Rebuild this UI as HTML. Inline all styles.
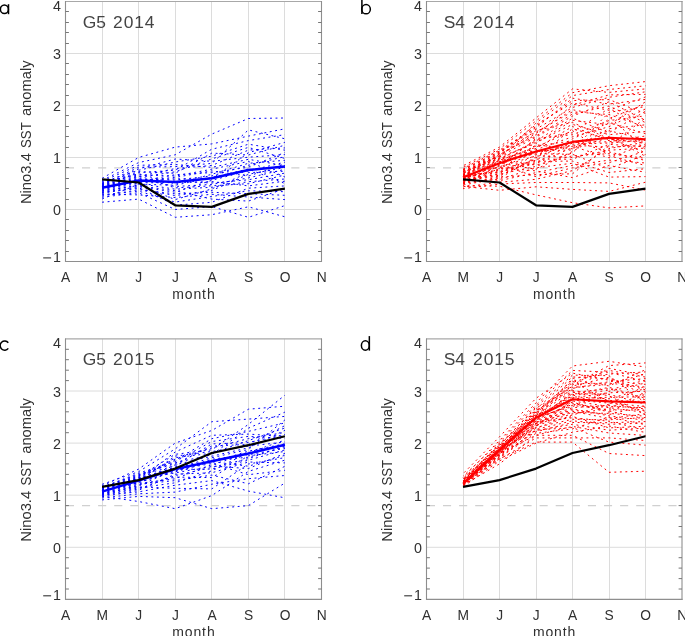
<!DOCTYPE html><html><head><meta charset="utf-8"><style>html,body{margin:0;padding:0;background:#fff;overflow:hidden;}svg{display:block;will-change:transform;}text{font-family:"Liberation Sans",sans-serif;}</style></head><body>
<svg width="685" height="636" viewBox="0 0 685 636">
<rect width="685" height="636" fill="#fff"/>
<path d="M102.5 1.5V261.5M138.5 1.5V261.5M175.5 1.5V261.5M211.5 1.5V261.5M248.5 1.5V261.5M284.5 1.5V261.5M65.5 209.5H321.5M65.5 157.5H321.5M65.5 105.5H321.5M65.5 53.5H321.5" stroke="#dcdcdc" stroke-width="1" fill="none"/>
<path d="M65.9 167.9H321.5" stroke="#d0d0d0" stroke-width="1.2" stroke-dasharray="8.1 8" fill="none"/>
<g stroke="#0000ff" stroke-width="1.0" fill="none" stroke-dasharray="1.9 3.6">
<polyline points="102.1,196.0 138.6,189.7 175.2,193.8 211.8,192.3 248.4,193.7 284.9,195.3"/>
<polyline points="102.1,187.1 138.6,178.3 175.2,186.5 211.8,184.4 248.4,177.9 284.9,169.3"/>
<polyline points="102.1,184.1 138.6,167.3 175.2,166.6 211.8,163.4 248.4,129.9 284.9,138.8"/>
<polyline points="102.1,194.9 138.6,191.1 175.2,202.1 211.8,196.5 248.4,190.8 284.9,191.7"/>
<polyline points="102.1,187.9 138.6,180.7 175.2,177.4 211.8,170.9 248.4,176.1 284.9,163.9"/>
<polyline points="102.1,197.2 138.6,192.7 175.2,209.5 211.8,206.6 248.4,217.3 284.9,205.6"/>
<polyline points="102.1,178.3 138.6,157.5 175.2,147.1 211.8,143.9 248.4,136.1 284.9,128.8"/>
<polyline points="102.1,190.1 138.6,183.5 175.2,189.2 211.8,187.3 248.4,181.7 284.9,179.0"/>
<polyline points="102.1,182.3 138.6,170.3 175.2,162.0 211.8,156.2 248.4,144.2 284.9,150.2"/>
<polyline points="102.1,185.3 138.6,177.4 175.2,171.8 211.8,158.9 248.4,147.4 284.9,158.5"/>
<polyline points="102.1,186.5 138.6,176.6 175.2,168.5 211.8,165.5 248.4,150.1 284.9,147.9"/>
<polyline points="102.1,187.5 138.6,182.8 175.2,182.6 211.8,181.6 248.4,185.9 284.9,181.2"/>
<polyline points="102.1,186.8 138.6,172.7 175.2,170.2 211.8,149.2 248.4,140.6 284.9,134.6"/>
<polyline points="102.1,189.0 138.6,181.4 175.2,174.7 211.8,172.6 248.4,167.2 284.9,152.5"/>
<polyline points="102.1,188.5 138.6,180.0 175.2,178.8 211.8,179.0 248.4,152.7 284.9,142.3"/>
<polyline points="102.1,189.5 138.6,182.1 175.2,181.3 211.8,183.0 248.4,179.8 284.9,173.1"/>
<polyline points="102.1,184.5 138.6,171.6 175.2,173.3 211.8,153.1 248.4,155.0 284.9,145.2"/>
<polyline points="102.1,184.9 138.6,175.7 175.2,187.9 211.8,185.8 248.4,183.7 284.9,175.0"/>
<polyline points="102.1,183.5 138.6,174.7 175.2,176.1 211.8,169.2 248.4,161.4 284.9,177.0"/>
<polyline points="102.1,185.7 138.6,168.9 175.2,159.0 211.8,161.3 248.4,157.2 284.9,154.6"/>
<polyline points="102.1,180.4 138.6,162.6 175.2,154.8 211.8,134.1 248.4,118.5 284.9,118.0"/>
<polyline points="102.1,192.6 138.6,186.7 175.2,192.2 211.8,180.3 248.4,170.8 284.9,162.2"/>
<polyline points="102.1,202.2 138.6,199.1 175.2,217.3 211.8,214.7 248.4,206.8 284.9,216.8"/>
<polyline points="102.1,186.1 138.6,179.1 175.2,180.0 211.8,175.9 248.4,165.3 284.9,156.6"/>
<polyline points="102.1,191.3 138.6,185.0 175.2,199.6 211.8,188.9 248.4,172.6 284.9,171.2"/>
<polyline points="102.1,191.9 138.6,188.6 175.2,195.6 211.8,190.5 248.4,174.3 284.9,167.5"/>
<polyline points="102.1,194.1 138.6,194.9 175.2,197.5 211.8,194.3 248.4,197.0 284.9,199.6"/>
<polyline points="102.1,199.0 138.6,184.2 175.2,185.2 211.8,177.5 248.4,169.0 284.9,183.5"/>
<polyline points="102.1,190.7 138.6,185.8 175.2,190.7 211.8,199.1 248.4,201.1 284.9,188.7"/>
<polyline points="102.1,183.0 138.6,173.7 175.2,183.9 211.8,174.3 248.4,163.3 284.9,160.3"/>
<polyline points="102.1,193.3 138.6,187.6 175.2,205.2 211.8,202.3 248.4,188.2 284.9,185.9"/>
<polyline points="102.1,181.5 138.6,165.3 175.2,164.5 211.8,167.4 248.4,159.3 284.9,165.7"/>
</g>
<polyline points="102.1,187.7 138.6,180.4 175.2,181.9 211.8,178.3 248.4,170.0 284.9,166.6" stroke="#0000ff" stroke-width="2.5" fill="none" stroke-linejoin="round"/>
<polyline points="102.1,179.3 138.6,182.5 175.2,205.3 211.8,206.9 248.4,193.9 284.9,188.7" stroke="#000" stroke-width="2.2" fill="none" stroke-linejoin="round"/>
<path d="M65.0 1.5H322.0" stroke="#a8a8a8" stroke-width="1.1"/>
<path d="M65.5 1.0V262.0" stroke="#8e8e8e" stroke-width="1.1"/>
<path d="M321.5 1.0V262.0" stroke="#8e8e8e" stroke-width="1.1"/>
<path d="M65.0 261.5H322.0" stroke="#8e8e8e" stroke-width="1.1"/>
<path d="M65.5 251.5h3.4M321.5 251.5h-3.4M65.5 240.5h3.4M321.5 240.5h-3.4M65.5 230.5h3.4M321.5 230.5h-3.4M65.5 219.5h3.4M321.5 219.5h-3.4M65.5 199.5h3.4M321.5 199.5h-3.4M65.5 188.5h3.4M321.5 188.5h-3.4M65.5 178.5h3.4M321.5 178.5h-3.4M65.5 167.5h3.4M321.5 167.5h-3.4M65.5 147.5h3.4M321.5 147.5h-3.4M65.5 136.5h3.4M321.5 136.5h-3.4M65.5 126.5h3.4M321.5 126.5h-3.4M65.5 115.5h3.4M321.5 115.5h-3.4M65.5 95.5h3.4M321.5 95.5h-3.4M65.5 84.5h3.4M321.5 84.5h-3.4M65.5 74.5h3.4M321.5 74.5h-3.4M65.5 63.5h3.4M321.5 63.5h-3.4M65.5 43.5h3.4M321.5 43.5h-3.4M65.5 32.5h3.4M321.5 32.5h-3.4M65.5 22.5h3.4M321.5 22.5h-3.4M65.5 11.5h3.4M321.5 11.5h-3.4" stroke="#777" stroke-width="1" fill="none"/>
<text x="60.9" y="261.9" font-size="14.3" fill="#303030" text-anchor="end">1</text>
<path d="M43.2 257.9H51.1" stroke="#333" stroke-width="1.1"/>
<text x="60.9" y="215.1" font-size="14.3" fill="#303030" text-anchor="end">0</text>
<text x="60.9" y="163.1" font-size="14.3" fill="#303030" text-anchor="end">1</text>
<text x="60.9" y="111.1" font-size="14.3" fill="#303030" text-anchor="end">2</text>
<text x="60.9" y="59.1" font-size="14.3" fill="#303030" text-anchor="end">3</text>
<text x="60.9" y="10.5" font-size="14.3" fill="#303030" text-anchor="end">4</text>
<text x="65.7" y="281.7" font-size="13.8" fill="#303030" text-anchor="middle">A</text>
<text x="102.3" y="281.7" font-size="13.8" fill="#303030" text-anchor="middle">M</text>
<text x="138.8" y="281.7" font-size="13.8" fill="#303030" text-anchor="middle">J</text>
<text x="175.4" y="281.7" font-size="13.8" fill="#303030" text-anchor="middle">J</text>
<text x="212.0" y="281.7" font-size="13.8" fill="#303030" text-anchor="middle">A</text>
<text x="248.6" y="281.7" font-size="13.8" fill="#303030" text-anchor="middle">S</text>
<text x="285.1" y="281.7" font-size="13.8" fill="#303030" text-anchor="middle">O</text>
<text x="321.7" y="281.7" font-size="13.8" fill="#303030" text-anchor="middle">N</text>
<text x="193.9" y="298.7" font-size="14" fill="#303030" text-anchor="middle" letter-spacing="0.9">month</text>
<text transform="translate(30.5 204.1) rotate(-90)" font-size="14.2" fill="#303030" textLength="51.0" lengthAdjust="spacingAndGlyphs">Nino3.4</text>
<text transform="translate(30.5 148.0) rotate(-90)" font-size="14.2" fill="#303030" textLength="25.7" lengthAdjust="spacingAndGlyphs">SST</text>
<text transform="translate(30.5 116.1) rotate(-90)" font-size="14.2" fill="#303030" textLength="55.8" lengthAdjust="spacingAndGlyphs">anomaly</text>
<text x="82.7" y="27.8" font-size="17.4" fill="#444">G5</text>
<text x="113.1" y="27.8" font-size="17.4" fill="#444" letter-spacing="0.9">2014</text>
<path d="M463.5 1.5V261.5M499.5 1.5V261.5M536.5 1.5V261.5M572.5 1.5V261.5M609.5 1.5V261.5M645.5 1.5V261.5M426.5 209.5H682.0M426.5 157.5H682.0M426.5 105.5H682.0M426.5 53.5H682.0" stroke="#dcdcdc" stroke-width="1" fill="none"/>
<path d="M426.9 167.9H682.0" stroke="#d0d0d0" stroke-width="1.2" stroke-dasharray="8.1 8" fill="none"/>
<g stroke="#ff0000" stroke-width="1.0" fill="none" stroke-dasharray="1.9 3.6">
<polyline points="463.0,173.4 499.5,157.6 536.0,123.0 572.5,95.6 609.0,89.5 645.5,85.8" stroke-dashoffset="0.1"/>
<polyline points="463.0,180.3 499.5,175.2 536.0,159.1 572.5,159.3 609.0,144.3 645.5,146.8" stroke-dashoffset="-0.5"/>
<polyline points="463.0,185.6 499.5,186.2 536.0,194.9 572.5,202.7 609.0,207.9 645.5,205.9" stroke-dashoffset="1.0"/>
<polyline points="463.0,171.4 499.5,156.5 536.0,137.2 572.5,116.1 609.0,101.8 645.5,120.3" stroke-dashoffset="-0.6"/>
<polyline points="463.0,169.8 499.5,153.4 536.0,126.3 572.5,100.6 609.0,99.6 645.5,113.5"/>
<polyline points="463.0,176.1 499.5,154.7 536.0,134.7 572.5,105.2 609.0,94.9 645.5,94.4" stroke-dashoffset="-0.5"/>
<polyline points="463.0,170.4 499.5,151.1 536.0,129.2 572.5,107.5 609.0,97.3 645.5,91.8" stroke-dashoffset="-0.3"/>
<polyline points="463.0,168.5 499.5,150.2 536.0,127.8 572.5,98.2 609.0,104.0 645.5,99.4" stroke-dashoffset="1.4"/>
<polyline points="463.0,173.0 499.5,157.0 536.0,143.5 572.5,120.3 609.0,124.7 645.5,101.8" stroke-dashoffset="-1.2"/>
<polyline points="463.0,183.5 499.5,177.2 536.0,174.6 572.5,173.8 609.0,145.6 645.5,118.0" stroke-dashoffset="-0.2"/>
<polyline points="463.0,181.8 499.5,163.0 536.0,169.3 572.5,151.4 609.0,130.7 645.5,139.5" stroke-dashoffset="-0.8"/>
<polyline points="463.0,177.4 499.5,161.9 536.0,146.0 572.5,140.9 609.0,151.9 645.5,160.5" stroke-dashoffset="-0.5"/>
<polyline points="463.0,178.5 499.5,160.3 536.0,147.2 572.5,130.6 609.0,155.7 645.5,165.6" stroke-dashoffset="1.5"/>
<polyline points="463.0,178.1 499.5,170.7 536.0,161.3 572.5,161.1 609.0,172.5 645.5,168.7" stroke-dashoffset="-0.5"/>
<polyline points="463.0,171.8 499.5,155.9 536.0,130.6 572.5,122.4 609.0,138.8 645.5,143.2" stroke-dashoffset="0.3"/>
<polyline points="463.0,169.2 499.5,151.9 536.0,132.0 572.5,111.8 609.0,114.5 645.5,127.0" stroke-dashoffset="-0.2"/>
<polyline points="463.0,174.4 499.5,167.5 536.0,170.9 572.5,177.6 609.0,165.5 645.5,172.3" stroke-dashoffset="0.7"/>
<polyline points="463.0,180.6 499.5,176.2 536.0,158.0 572.5,128.6 609.0,139.7 645.5,138.2" stroke-dashoffset="-0.2"/>
<polyline points="463.0,167.5 499.5,149.0 536.0,120.9 572.5,92.7 609.0,85.7 645.5,81.6" stroke-dashoffset="-1.0"/>
<polyline points="463.0,174.1 499.5,158.7 536.0,142.3 572.5,124.4 609.0,134.7 645.5,131.5" stroke-dashoffset="-0.2"/>
<polyline points="463.0,183.0 499.5,165.9 536.0,138.5 572.5,134.7 609.0,120.6 645.5,115.8" stroke-dashoffset="-0.3"/>
<polyline points="463.0,174.8 499.5,159.2 536.0,141.0 572.5,118.2 609.0,132.7 645.5,111.2" stroke-dashoffset="0.9"/>
<polyline points="463.0,176.4 499.5,172.4 536.0,162.5 572.5,144.1 609.0,143.0 645.5,140.3" stroke-dashoffset="0.2"/>
<polyline points="463.0,177.1 499.5,169.9 536.0,144.8 572.5,148.8 609.0,128.7 645.5,124.8" stroke-dashoffset="-0.9"/>
<polyline points="463.0,176.8 499.5,163.6 536.0,152.9 572.5,145.2 609.0,147.1 645.5,145.5" stroke-dashoffset="0.5"/>
<polyline points="463.0,186.3 499.5,190.3 536.0,186.8 572.5,189.4 609.0,191.4 645.5,182.2" stroke-dashoffset="-0.6"/>
<polyline points="463.0,183.9 499.5,168.3 536.0,151.9 572.5,146.3 609.0,157.8 645.5,144.3"/>
<polyline points="463.0,172.6 499.5,152.7 536.0,124.7 572.5,103.0 609.0,110.3 645.5,96.9" stroke-dashoffset="-0.8"/>
<polyline points="463.0,181.4 499.5,171.6 536.0,163.7 572.5,147.5 609.0,138.0 645.5,152.7" stroke-dashoffset="-0.3"/>
<polyline points="463.0,181.0 499.5,179.5 536.0,167.8 572.5,163.2 609.0,177.1 645.5,176.6" stroke-dashoffset="0.9"/>
<polyline points="463.0,175.4 499.5,166.7 536.0,155.9 572.5,157.5 609.0,150.2 645.5,148.1"/>
<polyline points="463.0,179.9 499.5,164.4 536.0,176.7 572.5,167.8 609.0,162.7 645.5,151.1" stroke-dashoffset="0.8"/>
<polyline points="463.0,172.2 499.5,158.2 536.0,150.9 572.5,150.0 609.0,112.4 645.5,106.6" stroke-dashoffset="0.8"/>
<polyline points="463.0,182.6 499.5,180.7 536.0,172.6 572.5,165.4 609.0,160.1 645.5,163.0" stroke-dashoffset="0.3"/>
<polyline points="463.0,188.7 499.5,184.0 536.0,182.5 572.5,182.5 609.0,182.9 645.5,190.1" stroke-dashoffset="0.4"/>
<polyline points="463.0,184.4 499.5,165.2 536.0,139.8 572.5,132.7 609.0,108.3 645.5,129.3" stroke-dashoffset="-0.3"/>
<polyline points="463.0,178.8 499.5,174.2 536.0,166.4 572.5,152.8 609.0,118.6 645.5,104.2" stroke-dashoffset="0.4"/>
<polyline points="463.0,175.8 499.5,159.8 536.0,148.5 572.5,126.5 609.0,140.7 645.5,141.1" stroke-dashoffset="0.8"/>
<polyline points="463.0,173.7 499.5,154.0 536.0,136.0 572.5,114.0 609.0,106.1 645.5,122.6" stroke-dashoffset="-1.2"/>
<polyline points="463.0,187.2 499.5,182.2 536.0,179.3 572.5,170.6 609.0,148.6 645.5,142.1" stroke-dashoffset="1.3"/>
<polyline points="463.0,182.2 499.5,173.3 536.0,154.8 572.5,142.3 609.0,141.8 645.5,136.0" stroke-dashoffset="-0.4"/>
<polyline points="463.0,165.8 499.5,147.1 536.0,118.0 572.5,88.9 609.0,92.4 645.5,88.9" stroke-dashoffset="-1.1"/>
<polyline points="463.0,177.8 499.5,169.1 536.0,160.2 572.5,138.8 609.0,122.7 645.5,133.7" stroke-dashoffset="-1.0"/>
<polyline points="463.0,185.0 499.5,178.3 536.0,156.9 572.5,143.1 609.0,136.7 645.5,156.3" stroke-dashoffset="-0.5"/>
<polyline points="463.0,179.6 499.5,162.4 536.0,149.7 572.5,136.8 609.0,126.7 645.5,108.9" stroke-dashoffset="-1.3"/>
<polyline points="463.0,175.1 499.5,161.4 536.0,165.0 572.5,155.8 609.0,153.7 645.5,158.3" stroke-dashoffset="-0.3"/>
<polyline points="463.0,170.9 499.5,155.3 536.0,133.3 572.5,109.7 609.0,116.5 645.5,149.6" stroke-dashoffset="-0.3"/>
<polyline points="463.0,179.2 499.5,160.8 536.0,153.8 572.5,154.3 609.0,168.8 645.5,154.5" stroke-dashoffset="0.5"/>
</g>
<polyline points="463.0,177.3 499.5,163.2 536.0,151.5 572.5,141.9 609.0,137.7 645.5,139.3" stroke="#ff0000" stroke-width="2.1" fill="none" stroke-linejoin="round"/>
<polyline points="463.0,179.3 499.5,182.5 536.0,205.3 572.5,206.9 609.0,193.9 645.5,188.7" stroke="#000" stroke-width="2.2" fill="none" stroke-linejoin="round"/>
<path d="M426.0 1.5H682.5" stroke="#a8a8a8" stroke-width="1.1"/>
<path d="M426.5 1.0V262.0" stroke="#8e8e8e" stroke-width="1.1"/>
<path d="M682.0 1.0V262.0" stroke="#8e8e8e" stroke-width="1.1"/>
<path d="M426.0 261.5H682.5" stroke="#8e8e8e" stroke-width="1.1"/>
<path d="M426.5 251.5h3.4M682.0 251.5h-3.4M426.5 240.5h3.4M682.0 240.5h-3.4M426.5 230.5h3.4M682.0 230.5h-3.4M426.5 219.5h3.4M682.0 219.5h-3.4M426.5 199.5h3.4M682.0 199.5h-3.4M426.5 188.5h3.4M682.0 188.5h-3.4M426.5 178.5h3.4M682.0 178.5h-3.4M426.5 167.5h3.4M682.0 167.5h-3.4M426.5 147.5h3.4M682.0 147.5h-3.4M426.5 136.5h3.4M682.0 136.5h-3.4M426.5 126.5h3.4M682.0 126.5h-3.4M426.5 115.5h3.4M682.0 115.5h-3.4M426.5 95.5h3.4M682.0 95.5h-3.4M426.5 84.5h3.4M682.0 84.5h-3.4M426.5 74.5h3.4M682.0 74.5h-3.4M426.5 63.5h3.4M682.0 63.5h-3.4M426.5 43.5h3.4M682.0 43.5h-3.4M426.5 32.5h3.4M682.0 32.5h-3.4M426.5 22.5h3.4M682.0 22.5h-3.4M426.5 11.5h3.4M682.0 11.5h-3.4" stroke="#777" stroke-width="1" fill="none"/>
<text x="421.9" y="261.9" font-size="14.3" fill="#303030" text-anchor="end">1</text>
<path d="M404.2 257.9H412.1" stroke="#333" stroke-width="1.1"/>
<text x="421.9" y="215.1" font-size="14.3" fill="#303030" text-anchor="end">0</text>
<text x="421.9" y="163.1" font-size="14.3" fill="#303030" text-anchor="end">1</text>
<text x="421.9" y="111.1" font-size="14.3" fill="#303030" text-anchor="end">2</text>
<text x="421.9" y="59.1" font-size="14.3" fill="#303030" text-anchor="end">3</text>
<text x="421.9" y="10.5" font-size="14.3" fill="#303030" text-anchor="end">4</text>
<text x="426.7" y="281.7" font-size="13.8" fill="#303030" text-anchor="middle">A</text>
<text x="463.2" y="281.7" font-size="13.8" fill="#303030" text-anchor="middle">M</text>
<text x="499.7" y="281.7" font-size="13.8" fill="#303030" text-anchor="middle">J</text>
<text x="536.2" y="281.7" font-size="13.8" fill="#303030" text-anchor="middle">J</text>
<text x="572.7" y="281.7" font-size="13.8" fill="#303030" text-anchor="middle">A</text>
<text x="609.2" y="281.7" font-size="13.8" fill="#303030" text-anchor="middle">S</text>
<text x="645.7" y="281.7" font-size="13.8" fill="#303030" text-anchor="middle">O</text>
<text x="682.2" y="281.7" font-size="13.8" fill="#303030" text-anchor="middle">N</text>
<text x="554.6" y="298.7" font-size="14" fill="#303030" text-anchor="middle" letter-spacing="0.9">month</text>
<text transform="translate(391.5 204.1) rotate(-90)" font-size="14.2" fill="#303030" textLength="51.0" lengthAdjust="spacingAndGlyphs">Nino3.4</text>
<text transform="translate(391.5 148.0) rotate(-90)" font-size="14.2" fill="#303030" textLength="25.7" lengthAdjust="spacingAndGlyphs">SST</text>
<text transform="translate(391.5 116.1) rotate(-90)" font-size="14.2" fill="#303030" textLength="55.8" lengthAdjust="spacingAndGlyphs">anomaly</text>
<text x="443.7" y="27.8" font-size="17.4" fill="#444">S4</text>
<text x="473.1" y="27.8" font-size="17.4" fill="#444" letter-spacing="0.9">2014</text>
<path d="M102.5 338.9V599.4M138.5 338.9V599.4M175.5 338.9V599.4M211.5 338.9V599.4M248.5 338.9V599.4M284.5 338.9V599.4M65.5 547.3H321.5M65.5 495.2H321.5M65.5 443.1H321.5M65.5 391.0H321.5" stroke="#dcdcdc" stroke-width="1" fill="none"/>
<path d="M65.9 505.6H321.5" stroke="#d0d0d0" stroke-width="1.2" stroke-dasharray="8.1 8" fill="none"/>
<g stroke="#0000ff" stroke-width="1.0" fill="none" stroke-dasharray="1.9 3.6">
<polyline points="102.1,495.2 138.6,491.9 175.2,485.2 211.8,480.6 248.4,491.1 284.9,497.8"/>
<polyline points="102.1,489.4 138.6,478.7 175.2,470.1 211.8,463.5 248.4,474.7 284.9,470.3"/>
<polyline points="102.1,494.4 138.6,489.0 175.2,475.6 211.8,467.4 248.4,458.6 284.9,445.9"/>
<polyline points="102.1,492.9 138.6,484.3 175.2,480.6 211.8,475.1 248.4,483.8 284.9,466.3"/>
<polyline points="102.1,486.8 138.6,474.9 175.2,462.7 211.8,454.7 248.4,428.2 284.9,412.1"/>
<polyline points="102.1,492.3 138.6,480.9 175.2,464.8 211.8,456.2 248.4,447.8 284.9,430.3"/>
<polyline points="102.1,492.0 138.6,480.0 175.2,457.7 211.8,453.2 248.4,440.6 284.9,428.0"/>
<polyline points="102.1,491.2 138.6,479.6 175.2,452.0 211.8,435.3 248.4,434.1 284.9,436.4"/>
<polyline points="102.1,490.0 138.6,477.3 175.2,460.4 211.8,438.7 248.4,431.4 284.9,422.9"/>
<polyline points="102.1,490.9 138.6,477.8 175.2,467.7 211.8,460.6 248.4,457.2 284.9,447.0"/>
<polyline points="102.1,498.0 138.6,493.8 175.2,492.1 211.8,484.2 248.4,478.7 284.9,475.5"/>
<polyline points="102.1,491.7 138.6,482.8 175.2,470.9 211.8,459.2 248.4,454.7 284.9,448.4"/>
<polyline points="102.1,494.0 138.6,482.1 175.2,471.9 211.8,461.6 248.4,466.2 284.9,455.3"/>
<polyline points="102.1,489.7 138.6,478.2 175.2,473.0 211.8,466.0 248.4,468.6 284.9,453.3"/>
<polyline points="102.1,493.6 138.6,486.0 175.2,469.4 211.8,469.1 248.4,460.2 284.9,449.9"/>
<polyline points="102.1,495.7 138.6,487.9 175.2,482.8 211.8,470.8 248.4,452.7 284.9,440.1"/>
<polyline points="102.1,493.3 138.6,486.9 175.2,488.3 211.8,488.9 248.4,464.0 284.9,457.6"/>
<polyline points="102.1,497.0 138.6,490.3 175.2,474.2 211.8,472.8 248.4,462.0 284.9,462.9"/>
<polyline points="102.1,499.9 138.6,496.4 175.2,497.7 211.8,508.7 248.4,505.6 284.9,483.0"/>
<polyline points="102.1,492.6 138.6,479.1 175.2,468.7 211.8,457.7 248.4,449.5 284.9,419.9"/>
<polyline points="102.1,485.9 138.6,469.1 175.2,443.1 211.8,430.5 248.4,409.2 284.9,406.2"/>
<polyline points="102.1,484.3 138.6,471.7 175.2,448.9 211.8,421.7 248.4,419.1 284.9,416.4"/>
<polyline points="102.1,490.6 138.6,480.4 175.2,466.8 211.8,462.4 248.4,451.1 284.9,443.8"/>
<polyline points="102.1,494.8 138.6,485.1 175.2,477.1 211.8,477.6 248.4,455.8 284.9,451.5"/>
<polyline points="102.1,491.4 138.6,481.5 175.2,456.1 211.8,451.5 248.4,446.1 284.9,442.0"/>
<polyline points="102.1,488.3 138.6,475.6 175.2,465.8 211.8,443.9 248.4,442.6 284.9,434.4"/>
<polyline points="102.1,488.7 138.6,476.2 175.2,459.1 211.8,448.0 248.4,438.6 284.9,432.4"/>
<polyline points="102.1,490.3 138.6,483.5 175.2,478.8 211.8,464.6 248.4,453.8 284.9,445.0"/>
<polyline points="102.1,487.9 138.6,474.1 175.2,463.8 211.8,446.1 248.4,444.4 284.9,425.6"/>
<polyline points="102.1,487.4 138.6,473.1 175.2,461.6 211.8,441.5 248.4,436.4 284.9,438.3"/>
<polyline points="102.1,489.1 138.6,476.8 175.2,454.3 211.8,449.8 248.4,424.4 284.9,395.2"/>
<polyline points="102.1,496.3 138.6,501.5 175.2,508.7 211.8,495.6 248.4,471.4 284.9,460.1"/>
</g>
<polyline points="102.1,491.6 138.6,480.6 175.2,469.1 211.8,461.3 248.4,453.5 284.9,444.7" stroke="#0000ff" stroke-width="2.5" fill="none" stroke-linejoin="round"/>
<polyline points="102.1,486.9 138.6,480.1 175.2,468.6 211.8,453.0 248.4,445.2 284.9,436.3" stroke="#000" stroke-width="2.2" fill="none" stroke-linejoin="round"/>
<path d="M65.0 338.9H322.0" stroke="#a8a8a8" stroke-width="1.1"/>
<path d="M65.5 338.4V599.9" stroke="#8e8e8e" stroke-width="1.1"/>
<path d="M321.5 338.4V599.9" stroke="#8e8e8e" stroke-width="1.1"/>
<path d="M65.0 599.4H322.0" stroke="#8e8e8e" stroke-width="1.1"/>
<path d="M65.5 589.0h3.4M321.5 589.0h-3.4M65.5 578.6h3.4M321.5 578.6h-3.4M65.5 568.1h3.4M321.5 568.1h-3.4M65.5 557.7h3.4M321.5 557.7h-3.4M65.5 536.9h3.4M321.5 536.9h-3.4M65.5 526.5h3.4M321.5 526.5h-3.4M65.5 516.0h3.4M321.5 516.0h-3.4M65.5 505.6h3.4M321.5 505.6h-3.4M65.5 484.8h3.4M321.5 484.8h-3.4M65.5 474.4h3.4M321.5 474.4h-3.4M65.5 463.9h3.4M321.5 463.9h-3.4M65.5 453.5h3.4M321.5 453.5h-3.4M65.5 432.7h3.4M321.5 432.7h-3.4M65.5 422.3h3.4M321.5 422.3h-3.4M65.5 411.8h3.4M321.5 411.8h-3.4M65.5 401.4h3.4M321.5 401.4h-3.4M65.5 380.6h3.4M321.5 380.6h-3.4M65.5 370.2h3.4M321.5 370.2h-3.4M65.5 359.7h3.4M321.5 359.7h-3.4M65.5 349.3h3.4M321.5 349.3h-3.4" stroke="#777" stroke-width="1" fill="none"/>
<text x="60.9" y="599.8" font-size="14.3" fill="#303030" text-anchor="end">1</text>
<path d="M43.2 595.8H51.1" stroke="#333" stroke-width="1.1"/>
<text x="60.9" y="552.9" font-size="14.3" fill="#303030" text-anchor="end">0</text>
<text x="60.9" y="500.8" font-size="14.3" fill="#303030" text-anchor="end">1</text>
<text x="60.9" y="448.7" font-size="14.3" fill="#303030" text-anchor="end">2</text>
<text x="60.9" y="396.6" font-size="14.3" fill="#303030" text-anchor="end">3</text>
<text x="60.9" y="347.9" font-size="14.3" fill="#303030" text-anchor="end">4</text>
<text x="65.7" y="619.6" font-size="13.8" fill="#303030" text-anchor="middle">A</text>
<text x="102.3" y="619.6" font-size="13.8" fill="#303030" text-anchor="middle">M</text>
<text x="138.8" y="619.6" font-size="13.8" fill="#303030" text-anchor="middle">J</text>
<text x="175.4" y="619.6" font-size="13.8" fill="#303030" text-anchor="middle">J</text>
<text x="212.0" y="619.6" font-size="13.8" fill="#303030" text-anchor="middle">A</text>
<text x="248.6" y="619.6" font-size="13.8" fill="#303030" text-anchor="middle">S</text>
<text x="285.1" y="619.6" font-size="13.8" fill="#303030" text-anchor="middle">O</text>
<text x="321.7" y="619.6" font-size="13.8" fill="#303030" text-anchor="middle">N</text>
<text x="193.9" y="636.6" font-size="14" fill="#303030" text-anchor="middle" letter-spacing="0.9">month</text>
<text transform="translate(30.5 541.8) rotate(-90)" font-size="14.2" fill="#303030" textLength="51.0" lengthAdjust="spacingAndGlyphs">Nino3.4</text>
<text transform="translate(30.5 485.6) rotate(-90)" font-size="14.2" fill="#303030" textLength="25.7" lengthAdjust="spacingAndGlyphs">SST</text>
<text transform="translate(30.5 453.8) rotate(-90)" font-size="14.2" fill="#303030" textLength="55.8" lengthAdjust="spacingAndGlyphs">anomaly</text>
<text x="82.7" y="365.2" font-size="17.4" fill="#444">G5</text>
<text x="113.1" y="365.2" font-size="17.4" fill="#444" letter-spacing="0.9">2015</text>
<path d="M463.5 338.9V599.4M499.5 338.9V599.4M536.5 338.9V599.4M572.5 338.9V599.4M609.5 338.9V599.4M645.5 338.9V599.4M426.5 547.3H682.0M426.5 495.2H682.0M426.5 443.1H682.0M426.5 391.0H682.0" stroke="#dcdcdc" stroke-width="1" fill="none"/>
<path d="M426.9 505.6H682.0" stroke="#d0d0d0" stroke-width="1.2" stroke-dasharray="8.1 8" fill="none"/>
<g stroke="#ff0000" stroke-width="1.0" fill="none" stroke-dasharray="1.9 3.6">
<polyline points="463.0,483.7 499.5,458.7 536.0,442.1 572.5,442.1 609.0,472.3 645.5,471.2" stroke-dashoffset="-3.1"/>
<polyline points="463.0,482.2 499.5,453.5 536.0,435.3 572.5,435.3 609.0,453.5 645.5,455.6"/>
<polyline points="463.0,483.2 499.5,450.9 536.0,430.1 572.5,427.5 609.0,442.1 645.5,445.2" stroke-dashoffset="-4.1"/>
<polyline points="463.0,484.7 499.5,455.4 536.0,423.7 572.5,411.3 609.0,418.5 645.5,413.7" stroke-dashoffset="3.9"/>
<polyline points="463.0,482.7 499.5,450.5 536.0,416.7 572.5,385.0 609.0,365.6 645.5,362.9" stroke-dashoffset="-3.2"/>
<polyline points="463.0,484.5 499.5,454.1 536.0,424.4 572.5,413.8 609.0,408.7 645.5,392.6" stroke-dashoffset="0.6"/>
<polyline points="463.0,483.4 499.5,454.5 536.0,420.4 572.5,407.7 609.0,405.3 645.5,408.9" stroke-dashoffset="5.1"/>
<polyline points="463.0,485.2 499.5,463.9 536.0,435.2 572.5,426.4 609.0,433.0 645.5,435.4" stroke-dashoffset="-1.2"/>
<polyline points="463.0,482.6 499.5,449.0 536.0,415.9 572.5,390.5 609.0,395.7 645.5,415.0" stroke-dashoffset="5.6"/>
<polyline points="463.0,483.1 499.5,453.0 536.0,421.9 572.5,417.8 609.0,421.2 645.5,430.1" stroke-dashoffset="2.8"/>
<polyline points="463.0,481.0 499.5,450.3 536.0,421.4 572.5,410.1 609.0,414.6 645.5,405.4" stroke-dashoffset="0.6"/>
<polyline points="463.0,482.2 499.5,452.6 536.0,425.8 572.5,399.9 609.0,403.1 645.5,406.5" stroke-dashoffset="1.5"/>
<polyline points="463.0,482.4 499.5,448.4 536.0,409.3 572.5,376.9 609.0,378.8 645.5,389.9" stroke-dashoffset="1.0"/>
<polyline points="463.0,480.1 499.5,447.1 536.0,412.6 572.5,379.9 609.0,385.9 645.5,369.7" stroke-dashoffset="-1.7"/>
<polyline points="463.0,483.2 499.5,453.7 536.0,423.1 572.5,408.9 609.0,415.9 645.5,420.2" stroke-dashoffset="6.0"/>
<polyline points="463.0,481.4 499.5,444.2 536.0,408.2 572.5,387.3 609.0,384.5 645.5,373.7" stroke-dashoffset="-1.2"/>
<polyline points="463.0,482.9 499.5,450.8 536.0,419.5 572.5,392.6 609.0,388.7 645.5,399.8" stroke-dashoffset="5.8"/>
<polyline points="463.0,479.8 499.5,449.8 536.0,418.3 572.5,378.4 609.0,374.1 645.5,371.9" stroke-dashoffset="4.2"/>
<polyline points="463.0,485.5 499.5,459.3 536.0,437.9 572.5,437.9 609.0,437.9 645.5,440.5" stroke-dashoffset="-5.7"/>
<polyline points="463.0,483.3 499.5,450.6 536.0,427.4 572.5,419.3 609.0,419.8 645.5,417.5" stroke-dashoffset="-2.9"/>
<polyline points="463.0,478.9 499.5,445.6 536.0,406.9 572.5,375.1 609.0,375.7 645.5,403.0" stroke-dashoffset="-0.3"/>
<polyline points="463.0,473.8 499.5,436.8 536.0,398.3 572.5,373.1 609.0,380.2 645.5,384.4" stroke-dashoffset="3.8"/>
<polyline points="463.0,482.8 499.5,448.1 536.0,416.3 572.5,395.8 609.0,390.0 645.5,380.1" stroke-dashoffset="-3.9"/>
<polyline points="463.0,477.5 499.5,440.4 536.0,402.9 572.5,366.0 609.0,361.3 645.5,367.1" stroke-dashoffset="1.4"/>
<polyline points="463.0,483.5 499.5,451.3 536.0,428.3 572.5,415.0 609.0,404.2 645.5,385.7" stroke-dashoffset="-1.6"/>
<polyline points="463.0,478.3 499.5,445.0 536.0,410.3 572.5,389.5 609.0,368.3 645.5,375.5" stroke-dashoffset="3.4"/>
<polyline points="463.0,483.6 499.5,456.0 536.0,426.6 572.5,401.0 609.0,406.5 645.5,407.7" stroke-dashoffset="5.1"/>
<polyline points="463.0,483.8 499.5,451.0 536.0,418.5 572.5,397.8 609.0,392.8 645.5,391.2" stroke-dashoffset="3.1"/>
<polyline points="463.0,480.7 499.5,446.1 536.0,417.4 572.5,396.8 609.0,398.8 645.5,388.5" stroke-dashoffset="-3.7"/>
<polyline points="463.0,479.4 499.5,446.6 536.0,414.9 572.5,402.1 609.0,412.2 645.5,394.0" stroke-dashoffset="3.1"/>
<polyline points="463.0,484.1 499.5,451.5 536.0,419.1 572.5,404.3 609.0,407.6 645.5,412.5" stroke-dashoffset="-0.7"/>
<polyline points="463.0,482.3 499.5,449.6 536.0,422.5 572.5,412.5 609.0,413.4 645.5,416.2" stroke-dashoffset="4.0"/>
<polyline points="463.0,486.0 499.5,458.2 536.0,429.4 572.5,420.8 609.0,424.3 645.5,423.1" stroke-dashoffset="-0.4"/>
<polyline points="463.0,482.1 499.5,447.8 536.0,418.7 572.5,393.7 609.0,394.3 645.5,404.2" stroke-dashoffset="4.9"/>
<polyline points="463.0,481.9 499.5,447.5 536.0,411.1 572.5,386.1 609.0,377.2 645.5,395.4" stroke-dashoffset="5.8"/>
<polyline points="463.0,480.4 499.5,449.2 536.0,418.1 572.5,394.7 609.0,387.3 645.5,398.3" stroke-dashoffset="3.9"/>
<polyline points="463.0,481.2 499.5,443.3 536.0,414.4 572.5,388.4 609.0,381.7 645.5,378.6" stroke-dashoffset="3.9"/>
<polyline points="463.0,482.6 499.5,448.7 536.0,413.2 572.5,382.5 609.0,370.4 645.5,377.1" stroke-dashoffset="3.8"/>
<polyline points="463.0,476.3 499.5,442.1 536.0,405.3 572.5,370.4 609.0,372.3 645.5,381.5" stroke-dashoffset="1.1"/>
<polyline points="463.0,484.4 499.5,451.8 536.0,417.8 572.5,405.4 609.0,409.9 645.5,410.1" stroke-dashoffset="-3.9"/>
<polyline points="463.0,484.2 499.5,456.6 536.0,430.5 572.5,424.3 609.0,430.2 645.5,428.1" stroke-dashoffset="5.8"/>
<polyline points="463.0,481.6 499.5,449.4 536.0,415.4 572.5,398.8 609.0,397.2 645.5,396.8" stroke-dashoffset="-0.4"/>
<polyline points="463.0,483.7 499.5,453.3 536.0,420.9 572.5,391.6 609.0,400.4 645.5,401.5" stroke-dashoffset="-5.8"/>
<polyline points="463.0,482.5 499.5,450.0 536.0,411.9 572.5,381.2 609.0,402.0 645.5,411.3" stroke-dashoffset="-0.8"/>
<polyline points="463.0,486.9 499.5,460.9 536.0,443.1 572.5,432.2 609.0,426.0 645.5,432.4" stroke-dashoffset="-1.0"/>
<polyline points="463.0,482.7 499.5,450.4 536.0,413.8 572.5,383.8 609.0,383.1 645.5,387.1" stroke-dashoffset="-3.6"/>
<polyline points="463.0,481.8 499.5,452.3 536.0,425.1 572.5,416.4 609.0,427.9 645.5,426.3" stroke-dashoffset="5.5"/>
<polyline points="463.0,484.9 499.5,457.3 536.0,433.3 572.5,428.9 609.0,417.2 645.5,424.7" stroke-dashoffset="-4.7"/>
<polyline points="463.0,484.0 499.5,454.9 536.0,431.8 572.5,422.5 609.0,422.7 645.5,421.6" stroke-dashoffset="4.8"/>
<polyline points="463.0,483.0 499.5,450.2 536.0,417.1 572.5,406.6 609.0,391.4 645.5,383.0" stroke-dashoffset="0.6"/>
<polyline points="463.0,483.0 499.5,452.1 536.0,419.9 572.5,403.2 609.0,411.0 645.5,418.9" stroke-dashoffset="-3.9"/>
</g>
<polyline points="463.0,483.7 499.5,449.9 536.0,417.6 572.5,399.3 609.0,401.4 645.5,402.5" stroke="#ff0000" stroke-width="2.1" fill="none" stroke-linejoin="round"/>
<polyline points="463.0,486.9 499.5,480.1 536.0,468.6 572.5,453.0 609.0,445.2 645.5,436.3" stroke="#000" stroke-width="2.2" fill="none" stroke-linejoin="round"/>
<path d="M426.0 338.9H682.5" stroke="#a8a8a8" stroke-width="1.1"/>
<path d="M426.5 338.4V599.9" stroke="#8e8e8e" stroke-width="1.1"/>
<path d="M682.0 338.4V599.9" stroke="#8e8e8e" stroke-width="1.1"/>
<path d="M426.0 599.4H682.5" stroke="#8e8e8e" stroke-width="1.1"/>
<path d="M426.5 589.0h3.4M682.0 589.0h-3.4M426.5 578.6h3.4M682.0 578.6h-3.4M426.5 568.1h3.4M682.0 568.1h-3.4M426.5 557.7h3.4M682.0 557.7h-3.4M426.5 536.9h3.4M682.0 536.9h-3.4M426.5 526.5h3.4M682.0 526.5h-3.4M426.5 516.0h3.4M682.0 516.0h-3.4M426.5 505.6h3.4M682.0 505.6h-3.4M426.5 484.8h3.4M682.0 484.8h-3.4M426.5 474.4h3.4M682.0 474.4h-3.4M426.5 463.9h3.4M682.0 463.9h-3.4M426.5 453.5h3.4M682.0 453.5h-3.4M426.5 432.7h3.4M682.0 432.7h-3.4M426.5 422.3h3.4M682.0 422.3h-3.4M426.5 411.8h3.4M682.0 411.8h-3.4M426.5 401.4h3.4M682.0 401.4h-3.4M426.5 380.6h3.4M682.0 380.6h-3.4M426.5 370.2h3.4M682.0 370.2h-3.4M426.5 359.7h3.4M682.0 359.7h-3.4M426.5 349.3h3.4M682.0 349.3h-3.4" stroke="#777" stroke-width="1" fill="none"/>
<text x="421.9" y="599.8" font-size="14.3" fill="#303030" text-anchor="end">1</text>
<path d="M404.2 595.8H412.1" stroke="#333" stroke-width="1.1"/>
<text x="421.9" y="552.9" font-size="14.3" fill="#303030" text-anchor="end">0</text>
<text x="421.9" y="500.8" font-size="14.3" fill="#303030" text-anchor="end">1</text>
<text x="421.9" y="448.7" font-size="14.3" fill="#303030" text-anchor="end">2</text>
<text x="421.9" y="396.6" font-size="14.3" fill="#303030" text-anchor="end">3</text>
<text x="421.9" y="347.9" font-size="14.3" fill="#303030" text-anchor="end">4</text>
<text x="426.7" y="619.6" font-size="13.8" fill="#303030" text-anchor="middle">A</text>
<text x="463.2" y="619.6" font-size="13.8" fill="#303030" text-anchor="middle">M</text>
<text x="499.7" y="619.6" font-size="13.8" fill="#303030" text-anchor="middle">J</text>
<text x="536.2" y="619.6" font-size="13.8" fill="#303030" text-anchor="middle">J</text>
<text x="572.7" y="619.6" font-size="13.8" fill="#303030" text-anchor="middle">A</text>
<text x="609.2" y="619.6" font-size="13.8" fill="#303030" text-anchor="middle">S</text>
<text x="645.7" y="619.6" font-size="13.8" fill="#303030" text-anchor="middle">O</text>
<text x="682.2" y="619.6" font-size="13.8" fill="#303030" text-anchor="middle">N</text>
<text x="554.6" y="636.6" font-size="14" fill="#303030" text-anchor="middle" letter-spacing="0.9">month</text>
<text transform="translate(391.5 541.8) rotate(-90)" font-size="14.2" fill="#303030" textLength="51.0" lengthAdjust="spacingAndGlyphs">Nino3.4</text>
<text transform="translate(391.5 485.6) rotate(-90)" font-size="14.2" fill="#303030" textLength="25.7" lengthAdjust="spacingAndGlyphs">SST</text>
<text transform="translate(391.5 453.8) rotate(-90)" font-size="14.2" fill="#303030" textLength="55.8" lengthAdjust="spacingAndGlyphs">anomaly</text>
<text x="443.7" y="365.2" font-size="17.4" fill="#444">S4</text>
<text x="473.1" y="365.2" font-size="17.4" fill="#444" letter-spacing="0.9">2015</text>
<g stroke="#000" stroke-width="1.5" fill="none">
<ellipse cx="4.4" cy="9.2" rx="4.0" ry="4.3"/><path d="M8.5 4.2V14.2"/>
<ellipse cx="366.05" cy="9.2" rx="4.3" ry="4.65"/><path d="M361.9 0V13.9"/>
<path d="M8.29 342.80A4.55 4.55 0 1 0 8.29 348.40"/>
<ellipse cx="365.35" cy="345.5" rx="3.95" ry="4.65"/><path d="M369.35 336.1V350.6"/>
</g>
</svg></body></html>
